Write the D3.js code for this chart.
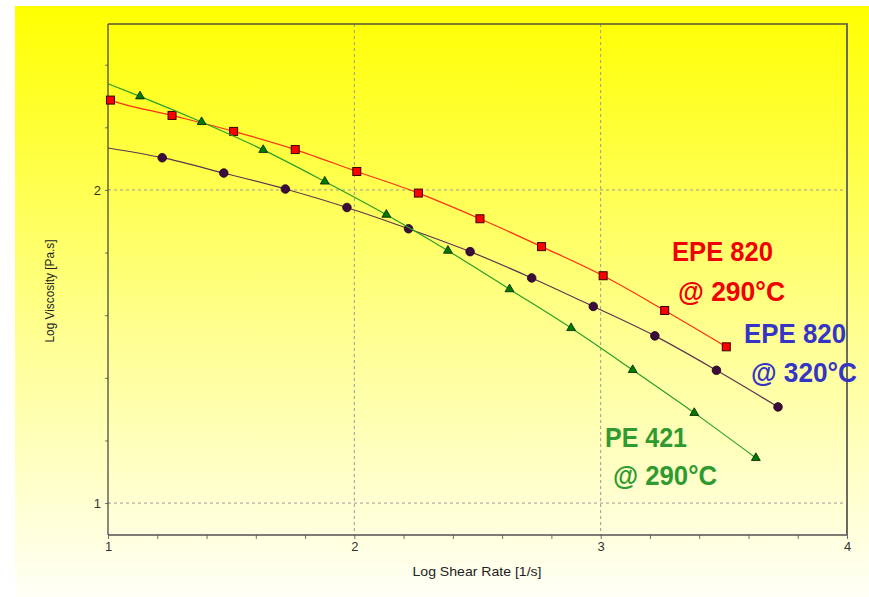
<!DOCTYPE html>
<html>
<head>
<meta charset="utf-8">
<script src="https://cdn.jsdelivr.net/npm/d3@7"></script>
<style>
  body { margin: 0; background: #ffffff; }
  svg { display: block; font-family: "Liberation Sans", Arial, sans-serif; }
</style>
</head>
<body>
<script>
// data (log shear rate vs log viscosity)
var epe290_x = [1.01, 1.26, 1.51, 1.76, 2.01, 2.26, 2.51, 2.76, 3.01, 3.26, 3.51];
var epe290_y = [2.287, 2.238, 2.187, 2.129, 2.059, 1.990, 1.908, 1.819, 1.726, 1.615, 1.499];

var epe320_x = [1.22, 1.47, 1.72, 1.97, 2.22, 2.47, 2.72, 2.97, 3.22, 3.47, 3.72];
var epe320_y = [2.103, 2.054, 2.003, 1.944, 1.876, 1.803, 1.719, 1.628, 1.534, 1.424, 1.307];

var pe421_x = [1.13, 1.38, 1.63, 1.88, 2.13, 2.38, 2.63, 2.88, 3.13, 3.38, 3.63];
var pe421_y = [2.299, 2.217, 2.128, 2.027, 1.921, 1.806, 1.683, 1.559, 1.425, 1.288, 1.144];

// where each fitted curve meets the left axis (x = 1)
var lineStart = { epe290: 2.290, epe320: 2.134, pe421: 2.339 };

var xTickLabels = [1, 2, 3, 4];
var yTickLabels = [1, 2];

var width = 869, height = 597;
var plot = { left: 108, right: 847, top: 24, bottom: 535 };

var svg = d3.select("body").append("svg")
  .attr("width", width)
  .attr("height", height);

// yellow panel gradient
var defs = svg.append("defs");
var grad = defs.append("linearGradient")
  .attr("id", "bg").attr("x1", 0).attr("y1", 0).attr("x2", 0).attr("y2", 1);
grad.append("stop").attr("offset", "0%").attr("stop-color", "#ffff00");
grad.append("stop").attr("offset", "55%").attr("stop-color", "#ffff90");
grad.append("stop").attr("offset", "100%").attr("stop-color", "#fffff6");

svg.append("rect")
  .attr("x", 15).attr("y", 6)
  .attr("width", width - 15).attr("height", height - 6)
  .attr("fill", "url(#bg)");

var scaleX = d3.scaleLinear().domain([1, 4]).range([plot.left, plot.right]);
var scaleY = d3.scaleLinear().domain([0.898, 2.53]).range([plot.bottom, plot.top]);

// dashed grid at the labelled ticks
svg.append("g").selectAll("line")
  .data(xTickLabels.filter(function (d) { return d > 1 && d < 4; }))
  .enter().append("line")
  .attr("x1", function (d) { return scaleX(d); })
  .attr("x2", function (d) { return scaleX(d); })
  .attr("y1", plot.top).attr("y2", plot.bottom)
  .attr("stroke", "#999999").attr("stroke-dasharray", "3,3");

svg.append("g").selectAll("line")
  .data(yTickLabels)
  .enter().append("line")
  .attr("x1", plot.left).attr("x2", plot.right)
  .attr("y1", function (d) { return scaleY(d); })
  .attr("y2", function (d) { return scaleY(d); })
  .attr("stroke", "#999999").attr("stroke-dasharray", "3,3");

// axes
var fmt = function (d) { return Math.abs(d - Math.round(d)) < 1e-6 ? String(Math.round(d)) : ""; };

var xAxis = d3.axisBottom(scaleX)
  .tickValues(d3.range(1, 4.001, 0.2))
  .tickFormat(fmt)
  .tickSizeInner(4).tickSizeOuter(0).tickPadding(3);
var gx = svg.append("g")
  .attr("transform", "translate(0," + plot.bottom + ")")
  .call(xAxis);

var yAxis = d3.axisLeft(scaleY)
  .tickValues(d3.range(1, 2.401, 0.2))
  .tickFormat(fmt)
  .tickSizeInner(3).tickSizeOuter(0).tickPadding(4);
var gy = svg.append("g")
  .attr("transform", "translate(" + plot.left + ",0)")
  .call(yAxis);

[gx, gy].forEach(function (g) {
  g.select(".domain").remove();
  g.selectAll(".tick line").attr("stroke", "#707070");
  g.selectAll(".tick text")
    .attr("fill", "#333333")
    .style("font-size", "13px")
    .style("font-family", "'Liberation Sans', Arial, sans-serif");
});

// frame
svg.append("line")
  .attr("x1", plot.left).attr("x2", plot.left)
  .attr("y1", plot.top).attr("y2", plot.bottom)
  .attr("stroke", "#3c3c3c").attr("stroke-width", 1.2);
svg.append("line")
  .attr("x1", plot.left).attr("x2", plot.right)
  .attr("y1", plot.bottom).attr("y2", plot.bottom)
  .attr("stroke", "#505050").attr("stroke-width", 1.5);
svg.append("line")
  .attr("x1", plot.left).attr("x2", plot.right + 1)
  .attr("y1", plot.top).attr("y2", plot.top)
  .attr("stroke", "#55553a").attr("stroke-width", 1.6);
svg.append("line")
  .attr("x1", plot.right).attr("x2", plot.right)
  .attr("y1", plot.top).attr("y2", plot.bottom)
  .attr("stroke", "#6a6a60").attr("stroke-width", 2);

// axis titles
svg.append("text")
  .attr("x", 477).attr("y", 576)
  .attr("text-anchor", "middle")
  .attr("textLength", 129)
  .attr("lengthAdjust", "spacingAndGlyphs")
  .style("font-size", "13px")
  .attr("fill", "#222")
  .text("Log Shear Rate [1/s]");

svg.append("text")
  .attr("transform", "translate(54,291) rotate(-90)")
  .attr("text-anchor", "middle")
  .attr("textLength", 103)
  .attr("lengthAdjust", "spacingAndGlyphs")
  .style("font-size", "12.5px")
  .attr("fill", "#222")
  .text("Log Viscosity [Pa.s]");

// series
var series = [
  { key: "epe290", xs: epe290_x, ys: epe290_y, line: "#ff3010", fill: "#ff0000", stroke: "#3a0000", shape: "square" },
  { key: "epe320", xs: epe320_x, ys: epe320_y, line: "#5e3450", fill: "#3c0c3c", stroke: "#1a001a", shape: "circle" },
  { key: "pe421", xs: pe421_x, ys: pe421_y, line: "#28a028", fill: "#007a00", stroke: "#002000", shape: "triangle" }
];

var line = d3.line()
  .x(function (d) { return scaleX(d[0]); })
  .y(function (d) { return scaleY(d[1]); })
  .curve(d3.curveMonotoneX);

series.forEach(function (s) {
  var pts = s.xs.map(function (x, i) { return [x, s.ys[i]]; });
  var linePts = [[1, lineStart[s.key]]].concat(pts);

  svg.append("path")
    .attr("d", line(linePts))
    .attr("fill", "none")
    .attr("stroke", s.line)
    .attr("stroke-width", 1.2);

  var g = svg.append("g");
  if (s.shape === "square") {
    g.selectAll("rect").data(pts).enter().append("rect")
      .attr("x", function (d) { return scaleX(d[0]) - 4; })
      .attr("y", function (d) { return scaleY(d[1]) - 4; })
      .attr("width", 8).attr("height", 8)
      .attr("fill", s.fill).attr("stroke", s.stroke).attr("stroke-width", 1);
  } else if (s.shape === "circle") {
    g.selectAll("circle").data(pts).enter().append("circle")
      .attr("cx", function (d) { return scaleX(d[0]); })
      .attr("cy", function (d) { return scaleY(d[1]); })
      .attr("r", 4.3)
      .attr("fill", s.fill).attr("stroke", s.stroke).attr("stroke-width", 0.8);
  } else {
    var tri = d3.symbol().type(d3.symbolTriangle).size(34);
    g.selectAll("path").data(pts).enter().append("path")
      .attr("d", tri)
      .attr("transform", function (d) { return "translate(" + scaleX(d[0]) + "," + scaleY(d[1]) + ")"; })
      .attr("fill", s.fill).attr("stroke", s.stroke).attr("stroke-width", 0.8);
  }
});

// series labels
var labels = [
  { lines: ["EPE 820", "@ 290°C"], color: "#f00000", pos: [[672, 261, 101], [678, 301, 107]] },
  { lines: ["EPE 820", "@ 320°C"], color: "#3535c5", pos: [[744, 343, 102], [751, 382, 106]] },
  { lines: ["PE 421", "@ 290°C"], color: "#2f9a2f", pos: [[605, 447, 82], [613, 485, 104]] }
];

labels.forEach(function (l) {
  l.lines.forEach(function (t, i) {
    svg.append("text")
      .attr("x", l.pos[i][0]).attr("y", l.pos[i][1])
      .attr("textLength", l.pos[i][2])
      .attr("lengthAdjust", "spacingAndGlyphs")
      .style("font-size", "28.5px")
      .style("font-weight", "bold")
      .attr("fill", l.color)
      .text(t);
  });
});
</script>
</body>
</html>
